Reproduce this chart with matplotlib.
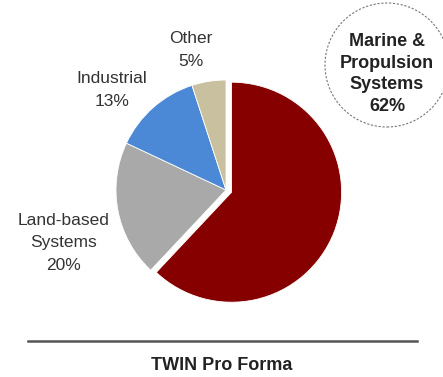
import matplotlib
matplotlib.use("Agg")
import matplotlib.pyplot as plt
from matplotlib.patches import Circle

labels = ["Marine &\nPropulsion\nSystems", "Land-based\nSystems", "Industrial", "Other"]
values = [62, 20, 13, 5]
colors = ["#860000", "#A9A9A9", "#4B88D6", "#C9C0A0"]
explode = [6, 0, 0, 0]
title = "TWIN Pro Forma"

W, H = 443, 377
fig = plt.figure(figsize=(W / 100, H / 100), dpi=100)
ax = fig.add_axes([0, 0, 1, 1])

cx, cy, r = 226, 377 - 190, 110
wedges, _ = ax.pie(values, colors=colors, startangle=90, counterclock=False,
                   radius=r, center=(cx, cy), explode=explode,
                   wedgeprops=dict(linewidth=0.6, edgecolor="white"))
ax.set_xlim(0, W)
ax.set_ylim(0, H)
ax.set_aspect("equal")
ax.axis("off")

font = "Liberation Sans"
fs = 12.5
ls = 1.65
# outside labels
ax.text(191, H - 50, f"{labels[3]}\n{values[3]}%", ha="center", va="center",
        fontsize=fs, family=font, color="#333333", linespacing=ls)
ax.text(112, H - 90, f"{labels[2]}\n{values[2]}%", ha="center", va="center",
        fontsize=fs, family=font, color="#333333", linespacing=ls)
ax.text(64, H - 243, f"{labels[1]}\n{values[1]}%", ha="center", va="center",
        fontsize=fs, family=font, color="#333333", linespacing=ls)

# circled main label
ax.add_patch(Circle((387, H - 65), 62, fill=False, edgecolor="#777777",
                    linestyle=(0, (2, 1.5)), linewidth=0.8))
ax.text(387, H - 74, f"{labels[0]}\n{values[0]}%", ha="center", va="center",
        fontsize=13, family=font, weight="bold", color="#222222", linespacing=1.38)

# rule and title
ax.plot([28, 417], [H - 341, H - 341], color="#555555", linewidth=1.8)
ax.text(222, H - 365, title, ha="center", va="center", fontsize=13,
        family=font, weight="bold", color="#222222")

fig.savefig("out.png", dpi=100)
